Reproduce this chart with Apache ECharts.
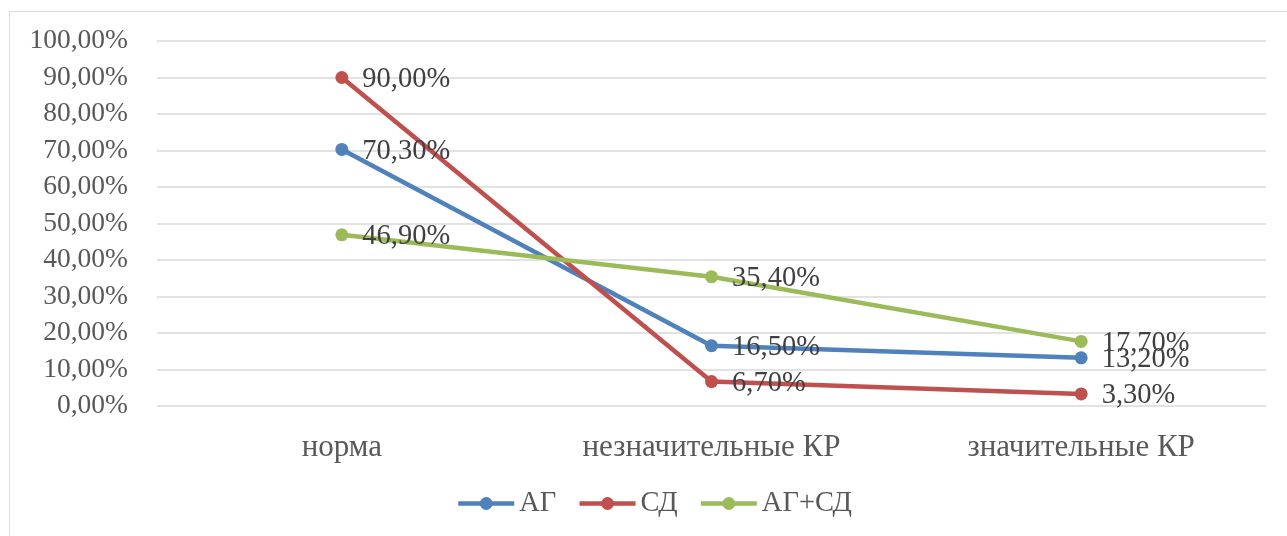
<!DOCTYPE html>
<html><head><meta charset="utf-8">
<script src="https://cdn.jsdelivr.net/npm/echarts@6/dist/echarts.min.js"></script>
<style>html,body{margin:0;padding:0;background:#fff}#c{width:1287px;height:536px}</style>
</head><body><div id="c"></div>
<script>
const categories = ['норма', 'незначительные КР', 'значительные КР'];
const seriesNames = ['АГ', 'СД', 'АГ+СД'];
const agValues = [70.3, 16.5, 13.2];
const sdValues = [90.0, 6.7, 3.3];
const agSdValues = [46.9, 35.4, 17.7];
const colors = ['#4F81BD', '#C0504D', '#9BBB59'];
const FONT = '"Liberation Serif", "Times New Roman", serif';
const fmt = v => v.toFixed(2).replace('.', ',') + '%';

const chart = echarts.init(document.getElementById('c'), null, {renderer: 'canvas'});
const mk = (name, data, color) => ({
  name, type: 'line', data,
  symbol: 'circle', symbolSize: 13,
  lineStyle: {width: 4.5, color},
  itemStyle: {color},
  label: {show: true, position: 'right', distance: 14, offset: [0, 2],
    fontFamily: FONT, fontSize: 28.5, color: '#404040',
    formatter: p => fmt(p.value)},
  z: 3
});
chart.setOption({
  animation: false,
  backgroundColor: '#fff',
  graphic: [{type: 'rect', shape: {x: 9.5, y: 11.5, width: 1300, height: 600},
    style: {fill: 'none', stroke: '#D9D9D9', lineWidth: 1}, silent: true}],
  grid: {left: 157, right: 21, top: 41, bottom: 130, containLabel: false},
  xAxis: {type: 'category', data: categories, boundaryGap: true,
    axisLine: {show: false}, axisTick: {show: false},
    axisLabel: {fontFamily: FONT, fontSize: 31, color: '#595959', margin: 26}},
  yAxis: {type: 'value', min: 0, max: 100, interval: 10,
    axisLine: {show: false}, axisTick: {show: false},
    axisLabel: {fontFamily: FONT, fontSize: 27.5, color: '#595959', margin: 29,
      formatter: v => fmt(v)},
    splitLine: {lineStyle: {color: '#D9D9D9', width: 1.5}}},
  legend: {bottom: 13, left: 451, itemWidth: 56, itemHeight: 16, itemGap: 21,
    lineStyle: {width: 4.5},
    textStyle: {fontFamily: FONT, fontSize: 28.5, color: '#595959'},
    data: seriesNames},
  series: [
    mk(seriesNames[0], agValues, colors[0]),
    mk(seriesNames[1], sdValues, colors[1]),
    mk(seriesNames[2], agSdValues, colors[2])
  ]
});
</script></body></html>
